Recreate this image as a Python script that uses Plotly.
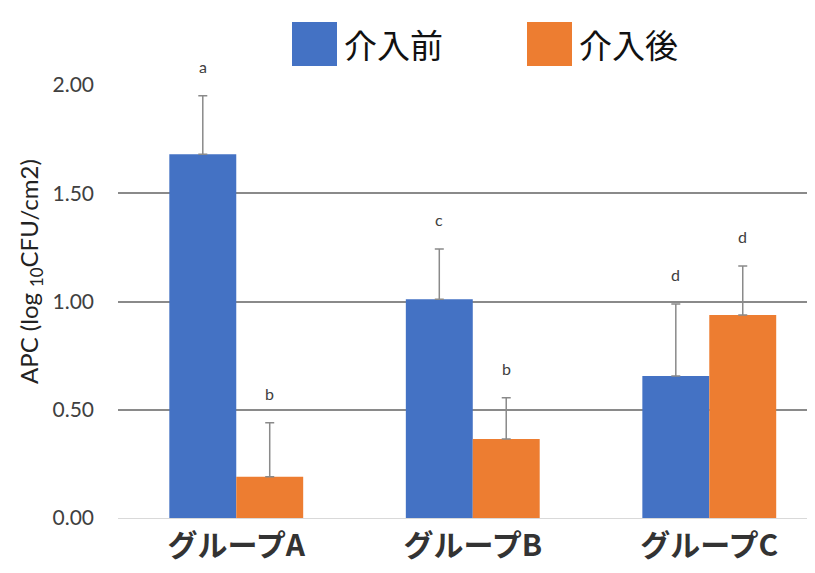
import plotly.graph_objects as go

groups = ["グループA", "グループB", "グループC"]
before_vals = [1.68, 1.01, 0.656]
before_err = [0.27, 0.233, 0.332]
after_vals = [0.19, 0.365, 0.938]
after_err = [0.25, 0.19, 0.226]
before_letters = ["a", "c", "d"]
after_letters = ["b", "b", "d"]
series_names = ["介入前", "介入後"]
y_ticks = [0.0, 0.5, 1.0, 1.5, 2.0]
y_ticklabels = ["0.00", "0.50", "1.00", "1.50", "2.00"]
y_title = "APC (log <sub>10</sub>CFU/cm2)"

BLUE = "#4472C4"
ORANGE = "#ED7D31"
ERR = "#8a8a8a"

fig = go.Figure()
for name, vals, errs, col in [
    (series_names[0], before_vals, before_err, BLUE),
    (series_names[1], after_vals, after_err, ORANGE),
]:
    fig.add_trace(go.Bar(
        x=groups, y=vals, name=name,
        marker=dict(color=col, line=dict(width=0)),
        error_y=dict(type="data", array=errs, arrayminus=[0] * len(errs),
                     symmetric=False, color=ERR, thickness=1.5, width=4.5),
        cliponaxis=False,
    ))

# significance letters above error bars
bar_off = 0.283 / 2
for i, g in enumerate(groups):
    for vals, errs, letters, dx in [
        (before_vals, before_err, before_letters, -bar_off),
        (after_vals, after_err, after_letters, bar_off),
    ]:
        fig.add_annotation(
            x=i + dx, y=vals[i] + errs[i], xref="x", yref="y",
            text=letters[i], showarrow=False, yanchor="bottom", yshift=18,
            font=dict(family="Lato", size=16, color="#404040"),
        )

# custom legend with large squares (screen px -> paper fractions of plot area)
PL, PR, PT, PB = 118, 815, 85, 518
PW, PH = PR - PL, PB - PT
leg = [(series_names[0], BLUE, 292), (series_names[1], ORANGE, 527)]
for name, col, x0 in leg:
    fig.add_shape(type="rect", xref="paper", yref="paper",
                  x0=(x0 - PL) / PW, x1=(x0 + 45 - PL) / PW,
                  y0=(PB - 66) / PH, y1=(PB - 22) / PH,
                  fillcolor=col, line=dict(width=0), layer="above")
    fig.add_annotation(xref="paper", yref="paper",
                       x=(x0 + 50 - PL) / PW, y=(PB - 44) / PH,
                       xanchor="left", yanchor="middle", showarrow=False,
                       text=name,
                       font=dict(family="Noto Sans CJK JP", size=33, color="#111111"))

# y-axis title as rotated annotation
fig.add_annotation(xref="paper", yref="paper",
                   x=(30 - PL) / PW, y=(PB - 272) / PH,
                   xanchor="center", yanchor="middle", textangle=-90,
                   showarrow=False, text=y_title,
                   font=dict(family="Lato", size=24, color="#222222"))

# page body has an 8px offset; compensate in margins
OFF = 8
fig.update_layout(
    width=815, height=573,
    margin=dict(l=PL - OFF, r=OFF, t=PT - OFF, b=573 - PB + OFF),
    paper_bgcolor="white", plot_bgcolor="white",
    barmode="group", bargap=0.434, bargroupgap=0,
    showlegend=False,
    xaxis=dict(
        range=[-0.5, 2.447], showgrid=False, showline=True,
        linecolor="#d9d9d9", linewidth=1, ticks="",
        tickfont=dict(family="Noto Sans CJK JP", size=30, color="#333333", weight="bold"),
        ticklabelstandoff=1,
    ),
    yaxis=dict(
        range=[0, 2.0], tickvals=y_ticks, ticktext=y_ticklabels,
        showgrid=True, gridcolor="#8a8a8a", gridwidth=1.5,
        zeroline=True, zerolinecolor="#d9d9d9", zerolinewidth=1,
        showline=False, ticks="", ticklabelstandoff=23,
        tickfont=dict(family="Lato", size=21, color="#404040"),
    ),
)

fig.write_html("out.html")
